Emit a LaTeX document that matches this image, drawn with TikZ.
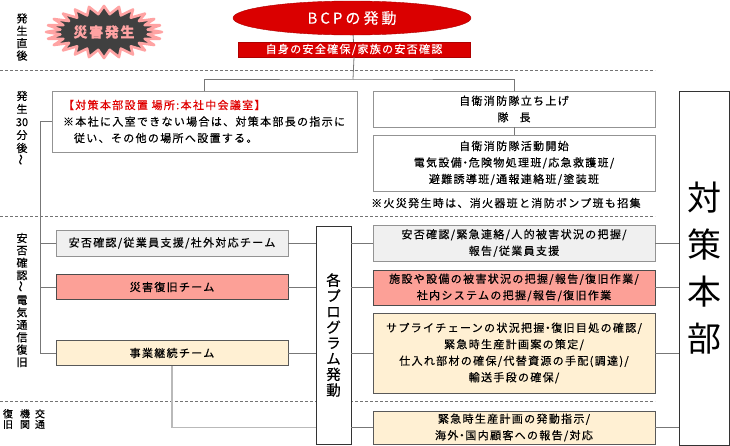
\documentclass[tikz,border=0pt]{standalone}
\usepackage{fontspec}
\setmainfont[LetterSpace=12, FakeBold=0.4]{Noto Sans CJK JP}
\usepackage{xcolor}
\usetikzlibrary{shapes.geometric, positioning}
\definecolor{bcpred}{HTML}{DA0000}
\definecolor{boxgray}{HTML}{F0F0F0}
\definecolor{boxred}{HTML}{FCA097}
\definecolor{boxcream}{HTML}{FFF0D3}
\definecolor{burstgray}{HTML}{404040}
\definecolor{burstpink}{HTML}{FFA3A3}
\definecolor{linegray}{HTML}{777777}
\definecolor{notered}{HTML}{E00000}
\newcommand\naka{\makebox[7pt]{・}}
\tikzset{every node/.style={align=center}}
\tikzset{
  box/.style={rectangle, draw=gray!85, line width=0.9pt, inner sep=0pt, font=\fontsize{11}{16.5}\selectfont},
  graybox/.style={box, fill=boxgray},
  redbox/.style={box, fill=boxred, draw=gray!60!black},
  creambox/.style={box, fill=boxcream, draw=gray!70!black},
  conn/.style={draw=linegray, line width=0.8pt},
  sep/.style={draw=gray!90!black, line width=0.6pt, dash pattern=on 3pt off 2pt},
  vlabel/.style={inner sep=0pt, font=\fontsize{11}{12.4}\selectfont},
}

\begin{document}
\begin{tikzpicture}[x=1pt, y=-1pt]
    \useasboundingbox (0,0) rectangle (730,445);
    % time bands
    \draw [sep] (0,70)  -- (655,70);
    \draw [sep] (0,216) -- (655,216);
    \draw [sep] (0,401) -- (655,401);

    \node (t1) [vlabel] at (22,37)  {発\\生\\直\\後};
    \node (t2) [vlabel, font=\fontsize{11}{13}\selectfont] at (22,128) {発\\生\\{\addfontfeature{LetterSpace=0}30}\\分\\後\\\rotatebox{90}{～}};
    \node (t3) [vlabel] at (22,300) {安\\否\\確\\認\\\rotatebox{90}{～}\\電\\気\\通\\信\\復\\旧};
    \node (t4a) [vlabel, font=\fontsize{10}{10.5}\selectfont] at (40,419) {交\\通};
    \node (t4b) [vlabel, font=\fontsize{10}{10.5}\selectfont] at (25,419) {機\\関};
    \node (t4c) [vlabel, font=\fontsize{10}{10.5}\selectfont] at (8,419)  {復\\旧};

    % start
    \draw [fill=burstgray, draw=burstpink, line width=2.6pt, line join=round]
        (162,32) \foreach \k in {0,...,23} {
            -- ({104+44*cos(\k*15+7.5)}, {32+18*sin(\k*15+7.5)})
            -- ({104+58*cos(\k*15+15)}, {32+26*sin(\k*15+15)})
        } -- cycle;
    \node (burst) [text=burstpink, font=\fontsize{14}{15}\selectfont\bfseries] at (104,32) {災害発生};
    \node (bcp) [ellipse, fill=bcpred, draw=bcpred!80!black, minimum width=238pt, minimum height=34pt, inner sep=0pt,
                 text=white, font=\fontsize{15}{16}\selectfont\addfontfeature{LetterSpace=20}] at (352,18) {BCPの発動};
    \node (bar) [rectangle, fill=bcpred, draw=bcpred!80!black, minimum width=232pt, minimum height=15pt, inner sep=0pt,
                 text=white, font=\fontsize{11}{12}\selectfont] at (354,49.5) {自身の安全確保/家族の安否確認};

    % first 30 minutes
    \node (honbu) [box, fill=white, minimum width=305pt, minimum height=61pt, text width=283pt, align=left] at (204.5,121.5)
        {\textcolor{notered}{【対策本部設置 場所:本社中会議室】}\\
         ※本社に入室できない場合は、対策本部長の指示に\\
         \hspace*{11pt}従い、その他の場所へ設置する。};
    \node (jieitai) [box, fill=white, minimum width=282pt, minimum height=36pt] at (514,109) {自衛消防隊立ち上げ\\隊\hspace{11pt}長};
    \node (katsudo) [box, fill=white, minimum width=282pt, minimum height=56pt] at (514,163)
        {自衛消防隊活動開始\\電気設備\naka 危険物処理班/応急救護班/\\避難誘導班/通報連絡班/塗装班};
    \node (note) [anchor=west, inner sep=0pt, font=\fontsize{11}{12}\selectfont] at (371,203) {※火災発生時は、消火器班と消防ポンプ班も招集};

    \node (hq) [rectangle, draw=black!80, fill=white, line width=0.9pt, minimum width=50pt, minimum height=354pt, inner sep=0pt,
                font=\fontsize{34}{47}\selectfont\addfontfeature{FakeBold=0}] at (704,268) {対\\策\\本\\部};

    % teams
    \node (anpi)   [graybox,  minimum width=232pt, minimum height=26pt] at (172,243) {安否確認/従業員支援/社外対応チーム};
    \node (fukkyu) [redbox,   minimum width=232pt, minimum height=25pt] at (172,287) {災害復旧チーム};
    \node (jigyo)  [creambox, minimum width=232pt, minimum height=25pt] at (172,353) {事業継続チーム};

    \node (prog) [rectangle, draw=black!80, fill=white, line width=0.9pt, minimum width=35pt, minimum height=218pt, inner sep=0pt,
                  font=\fontsize{14.5}{15.7}\selectfont] at (333.5,335) {各\\プ\\ロ\\グ\\ラ\\ム\\発\\動};

    \node (r1) [graybox,  minimum width=282pt, minimum height=36pt] at (514,243) {安否確認/緊急連絡/人的被害状況の把握/\\報告/従業員支援};
    \node (r2) [redbox,   minimum width=282pt, minimum height=35pt] at (514,287.5) {施設や設備の被害状況の把握/報告/復旧作業/\\社内システムの把握/報告/復旧作業};
    \node (r3) [creambox, minimum width=282pt, minimum height=80pt] at (514,353)
        {サプライチェーンの状況把握\naka 復旧目処の確認/\\緊急時生産計画案の策定/\\仕入れ部材の確保/代替資源の手配(調達)/\\輸送手段の確保/};
    \node (r4) [creambox, minimum width=282pt, minimum height=33pt] at (514,427.5) {緊急時生産計画の発動指示/\\海外\naka 国内顧客への報告/対応};

    % connectors
    \coordinate (split) at (353,79);
    \coordinate (lbus) at (40,0);
    \draw [conn] (bcp) -- (bar);
    \draw [conn] (bar.south) -- (split);
    \draw [conn] (honbu.north) |- (split) -| (jieitai.north);
    \draw [conn] (jieitai) -- (katsudo);
    \draw [conn] (honbu.west) -| (lbus |- jigyo.west) -- (jigyo.west);
    \draw [conn] (lbus |- anpi.west) -- (anpi.west);
    \draw [conn] (lbus |- fukkyu.west) -- (fukkyu.west);
    \foreach \a/\b in {anpi/r1, fukkyu/r2, jigyo/r3} {
        \draw [conn] (\a.east) -- (\a.east -| prog.west);
        \draw [conn] (prog.east |- \b.west) -- (\b.west);
        \draw [conn] (\b.east) -- (\b.east -| hq.west);
    }
    \draw [conn, draw=gray!55, line width=1.3pt] (jigyo.south) |- (prog.west |- r4.west);
    \draw [conn] (prog.east |- r4.west) -- (r4.west);
    \draw [conn] (r4.east) -- (r4.east -| hq.west);
\end{tikzpicture}
\end{document}
